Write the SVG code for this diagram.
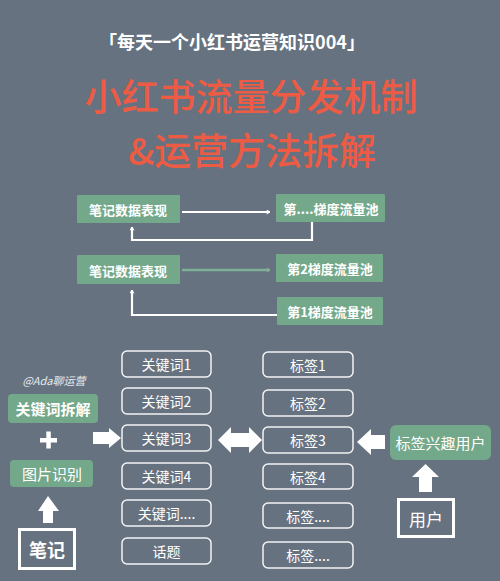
<svg xmlns="http://www.w3.org/2000/svg" width="500" height="581" viewBox="0 0 500 581">
<defs>
<style>
.cjk{font-family:"Noto Sans CJK SC","Noto Sans",sans-serif;}
.g{fill:#74a88a;}
.wt{fill:#ffffff;text-anchor:middle;dominant-baseline:central;}
.ob{fill:none;stroke:#f2f4f5;stroke-width:1.5;}
.ln{fill:none;stroke:#ffffff;stroke-width:2.2;}
.blk{fill:#ffffff;}
.red{fill:#ee5b44;text-anchor:middle;font-size:37px;font-weight:500;}
</style>
<marker id="ch" viewBox="0 0 10 10" refX="8" refY="5" markerWidth="5" markerHeight="5" orient="auto" markerUnits="userSpaceOnUse">
<path d="M1,1 L8,5 L1,9" fill="none" stroke="#ffffff" stroke-width="2"/>
</marker>
<marker id="chg" viewBox="0 0 10 10" refX="8" refY="5" markerWidth="5" markerHeight="5" orient="auto" markerUnits="userSpaceOnUse">
<path d="M1,1 L8,5 L1,9" fill="none" stroke="#7fb096" stroke-width="2"/>
</marker>
</defs>
<rect width="500" height="581" fill="#66727f"/>
<g id="title" class="cjk">
<text x="232" y="41" class="wt" font-size="18" font-weight="bold">「每天一个小红书运营知识004」</text>
<text x="251" y="111" class="red">小红书流量分发机制</text>
<text x="252" y="165" class="red">&amp;运营方法拆解</text>
</g>
<g id="connectors">
<line x1="182" y1="212" x2="270" y2="212" class="ln" marker-end="url(#ch)"/>
<path d="M312,222 V240 H132 V227" class="ln" marker-end="url(#ch)"/>
<line x1="182" y1="270" x2="270" y2="270" stroke="#7fb096" stroke-width="2.6" marker-end="url(#chg)"/>
<path d="M277,315 H132 V290" class="ln" marker-end="url(#ch)"/>
<polygon class="blk" points="38,511 48,496 59,511 53,511 53,523 43,523 43,511"/>
<polygon class="blk" points="93,432 109,432 109,428 121,438 109,448 109,444 93,444"/>
<polygon class="blk" points="218,440 231,427 231,433 249,433 249,427 262,440 249,453 249,447 231,447 231,453"/>
<polygon class="blk" points="357,442 371,429 371,435 385,435 385,449 371,449 371,455"/>
<polygon class="blk" points="412,477 425.5,464 439,477 432,477 432,492 419,492 419,477"/>
</g>
<g id="n-data1" class="cjk"><rect x="77" y="195" width="103" height="28" rx="1" class="g"/><text x="128" y="209" class="wt" font-size="13" font-weight="bold">笔记数据表现</text></g>
<g id="n-poolN" class="cjk"><rect x="276" y="194" width="109" height="28" rx="1" class="g"/><text x="331" y="208" class="wt" font-size="13" font-weight="bold">第....梯度流量池</text></g>
<g id="n-data2" class="cjk"><rect x="77" y="255" width="103" height="29" rx="1" class="g"/><text x="128" y="270" class="wt" font-size="13" font-weight="bold">笔记数据表现</text></g>
<g id="n-pool2" class="cjk"><rect x="276" y="254" width="107" height="28" rx="1" class="g"/><text x="330" y="268" class="wt" font-size="13" font-weight="bold">第2梯度流量池</text></g>
<g id="n-pool1" class="cjk"><rect x="277" y="297" width="106" height="28" rx="1" class="g"/><text x="330" y="311" class="wt" font-size="13" font-weight="bold">第1梯度流量池</text></g>
<g id="n-sign" class="cjk"><text x="54" y="380" fill="#e8ecef" text-anchor="middle" dominant-baseline="central" font-size="11" font-style="italic">@Ada聊运营</text></g>
<g id="n-kwsplit" class="cjk"><rect x="8" y="394" width="90" height="29" rx="4" class="g"/><text x="53" y="408.5" class="wt" font-size="15" font-weight="bold">关键词拆解</text></g>
<g id="n-plus"><rect x="40" y="438" width="17" height="4.5" class="blk"/><rect x="46.3" y="431.5" width="4.5" height="17" class="blk"/></g>
<g id="n-img" class="cjk"><rect x="10" y="460" width="83" height="27" rx="4" class="g"/><text x="52" y="473.5" class="wt" font-size="15">图片识别</text></g>
<g id="n-note" class="cjk"><rect x="19.5" y="529.5" width="55" height="39" fill="none" stroke="#ffffff" stroke-width="3"/><text x="47" y="549" class="wt" font-size="18" font-weight="bold">笔记</text></g>
<g id="n-kw1" class="cjk"><rect x="122" y="351" width="89" height="26" rx="5" class="ob"/><text x="166.5" y="364" class="wt" font-size="14">关键词1</text></g>
<g id="n-kw2" class="cjk"><rect x="122" y="388" width="89" height="26" rx="5" class="ob"/><text x="166.5" y="401" class="wt" font-size="14">关键词2</text></g>
<g id="n-kw3" class="cjk"><rect x="122" y="425" width="89" height="26" rx="5" class="ob"/><text x="166.5" y="438" class="wt" font-size="14">关键词3</text></g>
<g id="n-kw4" class="cjk"><rect x="122" y="463" width="89" height="26" rx="5" class="ob"/><text x="166.5" y="476" class="wt" font-size="14">关键词4</text></g>
<g id="n-kw5" class="cjk"><rect x="122" y="500" width="89" height="26" rx="5" class="ob"/><text x="166.5" y="513" class="wt" font-size="14">关键词....</text></g>
<g id="n-topic" class="cjk"><rect x="122" y="538" width="89" height="26" rx="5" class="ob"/><text x="166.5" y="551" class="wt" font-size="14">话题</text></g>
<g id="n-tag1" class="cjk"><rect x="263" y="352" width="90" height="25" rx="5" class="ob"/><text x="308" y="364.5" class="wt" font-size="14">标签1</text></g>
<g id="n-tag2" class="cjk"><rect x="263" y="390" width="90" height="26" rx="5" class="ob"/><text x="308" y="403" class="wt" font-size="14">标签2</text></g>
<g id="n-tag3" class="cjk"><rect x="263" y="427" width="90" height="26" rx="5" class="ob"/><text x="308" y="440" class="wt" font-size="14">标签3</text></g>
<g id="n-tag4" class="cjk"><rect x="263" y="464" width="90" height="25" rx="5" class="ob"/><text x="308" y="476.5" class="wt" font-size="14">标签4</text></g>
<g id="n-tag5" class="cjk"><rect x="263" y="503" width="90" height="25" rx="5" class="ob"/><text x="308" y="515.5" class="wt" font-size="14">标签....</text></g>
<g id="n-tag6" class="cjk"><rect x="263" y="542" width="90" height="26" rx="5" class="ob"/><text x="308" y="555" class="wt" font-size="14">标签....</text></g>
<g id="n-taguser" class="cjk"><rect x="390" y="425" width="101" height="35" rx="6" class="g"/><text x="440.5" y="442.5" class="wt" font-size="15">标签兴趣用户</text></g>
<g id="n-user" class="cjk"><rect x="398.5" y="499.5" width="55" height="37" fill="none" stroke="#ffffff" stroke-width="3"/><text x="426" y="518" class="wt" font-size="17">用户</text></g>
</svg>
